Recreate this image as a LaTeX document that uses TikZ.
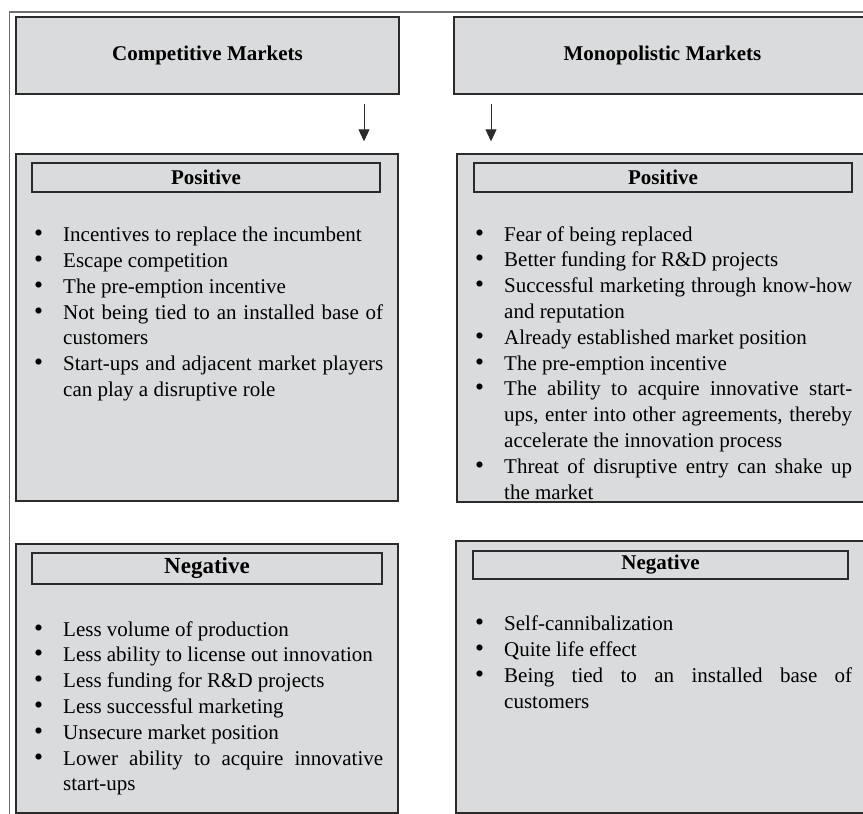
\documentclass[tikz,border=0pt]{standalone}
\usepackage{fontspec}
\setmainfont{Liberation Serif}
\usetikzlibrary{arrows.meta}
\definecolor{boxfill}{HTML}{DADBDD}
\definecolor{boxline}{HTML}{2B2B2B}
\definecolor{framegray}{HTML}{6E6E6E}
\newcommand{\bitem}[1]{\noindent\hangindent=29pt\hangafter=1\makebox[29pt][l]{\scalebox{1.22}{\textbullet}}#1\par}
\begin{document}
\begin{tikzpicture}[x=1pt,y=-1pt,
  font=\fontsize{21}{25.8}\selectfont,
  panel/.style={draw=boxline, line width=1.4pt, fill=boxfill, inner sep=0pt, font=\fontsize{21}{25}\selectfont\bfseries},
  header/.style={draw=boxline, line width=1.1pt, inner sep=0pt, font=\fontsize{21}{25}\selectfont\bfseries},
  itemlist/.style={anchor=base west, inner sep=0pt, align=justify, text width=#1,
     execute at begin node={\tolerance=9999\emergencystretch=10pt\hyphenpenalty=10000}},
  arr/.style={draw=boxline, line width=1pt, -{Triangle[length=12pt,width=11pt]}}]
\useasboundingbox (0,0) rectangle (863,814);
\fill[white] (0,0) rectangle (863,814);
\clip (0,0) rectangle (863,814);
\draw[framegray, line width=1.2pt] (9.5,814) -- (9.5,12) -- (863,12);

\node[panel, minimum width=383pt, minimum height=77pt] (comp) at (207.5,55.5) {Competitive Markets};
\node[panel, minimum width=417pt, minimum height=77pt] (mono) at (662.5,55.5) {Monopolistic Markets};

\node[panel, minimum width=382pt, minimum height=347pt] (cpos) at (207,327.5) {};
\node[panel, minimum width=414pt, minimum height=348pt] (mpos) at (664,328) {};
\node[panel, minimum width=382pt, minimum height=269pt] (cneg) at (207,678.5) {};
\node[panel, minimum width=415pt, minimum height=272pt] (mneg) at (663.5,677) {};

\node[header, minimum width=348pt, minimum height=29pt] (cposh) at (206,177.5) {Positive};
\node[header, minimum width=378pt, minimum height=29pt] (mposh) at (663,177.5) {Positive};
\node[header, minimum width=350pt, minimum height=31pt, font=\fontsize{23}{26}\selectfont\bfseries] (cnegh) at (207,568.5) {Negative};
\node[header, minimum width=375pt, minimum height=28pt] (mnegh) at (660.5,565) {Negative};

\node[itemlist=349pt] (cposl) at (34,241.7) {%
\bitem{Incentives to replace the incumbent}
\bitem{Escape competition}
\bitem{The pre-emption incentive}
\bitem{Not being tied to an installed base of\linebreak customers}
\bitem{Start-ups and adjacent market players\linebreak can play a disruptive role}};

\node[itemlist=377pt] (mposl) at (475,241) {%
\bitem{Fear of being replaced}
\bitem{Better funding for R\&D projects}
\bitem{Successful marketing through know-how\linebreak and reputation}
\bitem{Already established market position}
\bitem{The pre-emption incentive}
\bitem{The ability to acquire innovative start-\linebreak ups, enter into other agreements, thereby\linebreak accelerate the innovation process}
\bitem{Threat of disruptive entry can shake up\linebreak the market}};

\node[itemlist=349pt] (cnegl) at (34,636) {%
\bitem{Less volume of production}
\bitem{Less ability to license out innovation}
\bitem{Less funding for R\&D projects}
\bitem{Less successful marketing}
\bitem{Unsecure market position}
\bitem{Lower ability to acquire innovative\linebreak start-ups}};

\node[itemlist=377pt] (mnegl) at (475,630.7) {%
\bitem{Self-cannibalization}
\bitem{Quite life effect}
\bitem{Being tied to an installed base of\linebreak customers}};

\coordinate (ax1) at (364,0);
\coordinate (ax2) at (491,0);
\draw[arr, shorten <=9pt, shorten >=12pt] (comp.south -| ax1) -- (cpos.north -| ax1);
\draw[arr, shorten <=9pt, shorten >=12pt] (mono.south -| ax2) -- (mpos.north -| ax2);
\end{tikzpicture}
\end{document}
